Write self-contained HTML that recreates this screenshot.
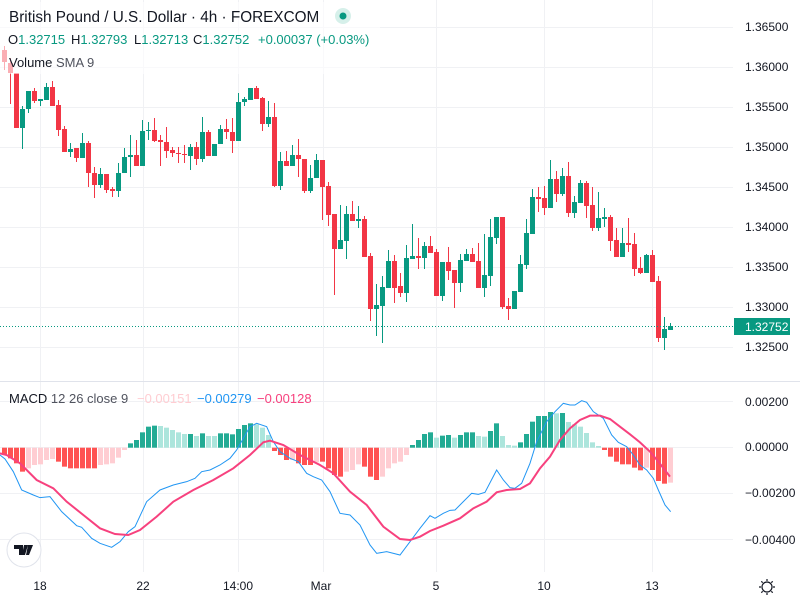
<!DOCTYPE html>
<html><head><meta charset="utf-8"><style>
html,body{margin:0;padding:0;background:#fff;width:800px;height:600px;overflow:hidden}
svg{display:block;font-family:"Liberation Sans",sans-serif}
</style></head><body>
<svg id="s" width="800" height="600" viewBox="0 0 800 600" xmlns="http://www.w3.org/2000/svg">
<g stroke="#f0f1f4" stroke-width="1" id="grid">
<line x1="40.5" y1="0" x2="40.5" y2="572"/><line x1="143.5" y1="0" x2="143.5" y2="572"/>
<line x1="238.5" y1="0" x2="238.5" y2="572"/><line x1="323.5" y1="0" x2="323.5" y2="572"/>
<line x1="436.5" y1="0" x2="436.5" y2="572"/><line x1="544.5" y1="0" x2="544.5" y2="572"/>
<line x1="652.5" y1="0" x2="652.5" y2="572"/>
<line x1="0" y1="27.5" x2="733" y2="27.5"/><line x1="0" y1="67.5" x2="733" y2="67.5"/>
<line x1="0" y1="107.5" x2="733" y2="107.5"/><line x1="0" y1="147.5" x2="733" y2="147.5"/>
<line x1="0" y1="187.5" x2="733" y2="187.5"/><line x1="0" y1="227.5" x2="733" y2="227.5"/>
<line x1="0" y1="267.5" x2="733" y2="267.5"/><line x1="0" y1="307.5" x2="733" y2="307.5"/>
<line x1="0" y1="347.5" x2="733" y2="347.5"/>
<line x1="0" y1="401.5" x2="733" y2="401.5"/><line x1="0" y1="447.5" x2="733" y2="447.5"/>
<line x1="0" y1="493.5" x2="733" y2="493.5"/><line x1="0" y1="539.5" x2="733" y2="539.5"/>
</g>
<line x1="0" y1="381.5" x2="800" y2="381.5" stroke="#e0e3eb" stroke-width="1"/>
<g id="candles"></g>
<g id="hist"></g>
<line x1="0" y1="326.5" x2="733" y2="326.5" stroke="#089981" stroke-width="1" stroke-dasharray="1,2"/>
<g transform="translate(0,355) scale(0.33333)" fill="none">
<polyline stroke="#2196f3" stroke-width="1" vector-effect="non-scaling-stroke" points="0,300 15,312 40,350 65,405 100,420 120,428 150,425 185,470 230,512 245,517 275,550 300,565 335,577 360,560 385,530 405,515 440,440 480,405 520,390 560,380 585,370 605,350 630,345 660,330 690,310 710,285 730,250 750,215 770,205 800,215 820,260 840,290 870,310 895,320 920,355 940,365 965,375 990,410 1020,475 1050,480 1080,510 1110,570 1130,595 1160,590 1200,600 1230,560 1260,520 1290,482 1305,490 1330,475 1350,466 1365,465 1390,440 1415,415 1435,418 1455,412 1490,345 1510,375 1530,398 1545,400 1565,385 1590,325 1610,260 1640,200 1665,170 1690,145 1710,150 1725,150 1745,137 1760,142 1780,170 1810,190 1835,240 1855,262 1880,275 1900,300 1920,330 1940,345 1960,370 1975,405 1995,450 2012,470"/>
<polyline stroke="#f7417e" stroke-width="2" vector-effect="non-scaling-stroke" points="0,295 20,300 60,325 110,375 160,400 200,440 250,480 300,520 345,537 385,540 420,525 470,485 520,440 580,405 640,375 700,340 750,300 790,262 810,257 850,270 900,300 960,330 1000,355 1050,410 1100,450 1150,515 1200,552 1230,555 1260,545 1290,528 1330,512 1380,490 1420,460 1460,440 1490,412 1520,405 1560,402 1590,385 1620,340 1650,305 1680,255 1710,220 1740,195 1770,182 1800,182 1830,192 1860,215 1890,238 1920,262 1950,290 1975,320 2010,365"/>
</g>
<!-- header -->
<rect x="0" y="2" width="380" height="72" fill="#fff" opacity="0.6"/>
<text x="9" y="22" font-size="15.3" fill="#131722">British Pound / U.S. Dollar · 4h · FOREXCOM</text>
<circle cx="343" cy="16" r="8" fill="#d6f0ea"/><circle cx="343" cy="16" r="3.5" fill="#089981"/>
<g font-size="13" fill="#089981">
<text x="8" y="44"><tspan fill="#131722">O</tspan>1.32715</text>
<text x="71" y="44"><tspan fill="#131722">H</tspan>1.32793</text>
<text x="134" y="44"><tspan fill="#131722">L</tspan>1.32713</text>
<text x="193" y="44"><tspan fill="#131722">C</tspan>1.32752</text>
<text x="258" y="44">+0.00037 (+0.03%)</text>
</g>
<text x="9" y="67" font-size="13" fill="#131722">Volume <tspan fill="#50535e">SMA 9</tspan></text>
<g font-size="13">
<text x="9" y="403" fill="#131722">MACD <tspan fill="#50535e">12 26 close 9</tspan></text>
<text x="137" y="403" fill="#ffcdd2">−0.00151</text>
<text x="197" y="403" fill="#2196f3">−0.00279</text>
<text x="257" y="403" fill="#f7417e">−0.00128</text>
</g>
<!-- price axis -->
<g font-size="12" fill="#131722">
<text x="745" y="31">1.36500</text><text x="745" y="71">1.36000</text><text x="745" y="111">1.35500</text>
<text x="745" y="151">1.35000</text><text x="745" y="191">1.34500</text><text x="745" y="231">1.34000</text>
<text x="745" y="271">1.33500</text><text x="745" y="311">1.33000</text><text x="745" y="351">1.32500</text>
<text x="745" y="406">0.00200</text><text x="745" y="451">0.00000</text>
<text x="745" y="497">−0.00200</text><text x="745" y="544">−0.00400</text>
</g>
<rect x="734" y="318" width="56" height="17" fill="#089981"/>
<text x="745" y="331" font-size="12" fill="#fff">1.32752</text>
<!-- time axis -->
<g font-size="12" fill="#131722" text-anchor="middle">
<text x="40" y="590">18</text><text x="143" y="590">22</text><text x="238" y="590">14:00</text>
<text x="321" y="590">Mar</text><text x="436" y="590">5</text><text x="544" y="590">10</text><text x="652" y="590">13</text>
</g>
<g transform="translate(767,587)" stroke="#131722" fill="none" stroke-width="1.2">
<circle r="5"/><path d="M0,-8V-6M0,6V8M-8,0H-6M6,0H8M-5.7,-5.7L-4.3,-4.3M4.3,4.3L5.7,5.7M-5.7,5.7L-4.3,4.3M4.3,-4.3L5.7,-5.7"/>
</g>
<circle cx="24" cy="550" r="17" fill="#fff" stroke="#e0e3eb"/>
<path d="M14,545h9v10h-4v-6h-5z M24,545h4l-3,10h-3z M28,545h5l-4,10h-3z" fill="#131722"/>
</svg>
<script>
var C=[[50,62,46,70,0],[63,73,58,104,0],[73,128,73,104,0],[109,128,106,149,1],[91,109,91,113,1],[91,101,88,103,0],[99,101,99,106,1],[87,100,83,100,1],[87,106,81,106,0],[105,130,100,136,0],
[129,152,126,152,0],[149,152,143,157,1],[148,158,148,162,0],[143,158,133,158,1],[143,173,141,187,0],[173,185,167,198,0],[174,185,168,188,1],[174,190,174,193,0],[189,191,187,197,0],[173,191,163,197,1],
[157,173,148,173,1],[155,157,135,177,1],[155,166,140,166,0],[131,166,120,166,1],[130,131,122,140,1],[130,141,118,142,0],[140,142,135,166,0],[142,151,127,158,0],[150,153,147,157,0],[153,154,147,163,0],
[154,155,145,163,0],[147,156,144,170,1],[147,159,142,165,0],[132,159,117,162,1],[132,156,130,156,0],[144,156,144,156,1],[129,144,125,144,1],[129,132,119,139,0],[132,141,118,153,0],[102,141,93,141,1],
[99,102,97,106,1],[88,100,88,100,1],[88,99,86,99,0],[98,124,97,131,0],[117,124,101,127,1],[117,186,103,187,0],[161,186,152,190,1],[161,166,151,166,0],[155,166,145,166,1],[155,159,139,177,0],
[159,191,159,193,0],[178,191,165,193,1],[160,178,154,178,1],[160,187,160,220,0],[186,215,182,226,0],[214,249,214,295,0],[240,249,205,249,1],[214,241,206,259,1],[214,221,201,221,0],[219,221,206,228,1],
[219,257,216,257,0],[256,309,253,321,0],[305,309,284,336,1],[287,306,276,343,1],[261,288,250,288,1],[261,288,255,303,0],[286,293,273,297,0],[258,293,245,302,1],[256,259,224,259,1],[256,258,238,269,0],
[246,258,242,269,1],[246,253,236,253,0],[252,296,249,296,0],[262,296,262,301,1],[262,271,247,280,0],[270,283,270,308,0],[260,283,254,292,1],[254,261,249,261,1],[254,262,248,262,0],[261,288,243,288,0],
[275,288,234,297,1],[237,276,219,286,1],[217,238,217,244,1],[217,307,217,309,0],[306,309,298,320,0],[291,309,291,309,1],[264,292,255,292,1],[233,265,219,269,1],[197,234,189,234,1],[197,199,187,212,0],
[198,208,186,215,0],[179,208,160,208,1],[179,194,171,202,0],[176,194,168,196,1],[176,213,162,217,0],[202,213,196,218,1],[183,203,180,203,1],[183,206,181,218,0],[205,228,187,231,0],[218,228,192,231,1],
[217,219,208,227,1],[217,241,215,251,0],[240,257,228,257,0],[243,257,228,257,1],[243,245,218,252,0],[244,269,233,276,0],[268,273,257,274,0],[255,273,254,273,1],[255,282,250,282,0],[281,338,276,342,0],
[329,338,317,350,1],[326,330,323,330,1]];
var H=[['R',300],['R',310],['R',325],['R',350],['P',340],['P',330],['P',328],['P',315],['P',312],['R',320],['R',335],['R',340],['R',340],['R',340],['R',340],['R',340],['P',330],['P',328],['P',325],['P',308],['P',285],
['G',265],['G',255],['G',232],['G',215],['G',212],['L',213],['L',218],['L',225],['L',232],['L',237],['G',237],['L',243],['G',235],['L',243],['L',243],['G',235],['G',235],['G',238],['G',222],['G',210],['G',205],['L',208],['L',218],['L',240],
['R',288],['R',300],['R',315],['P',315],['R',325],['R',330],['R',330],['P',322],['R',320],['R',340],['R',360],['R',365],['P',350],['P',345],['P',328],['R',335],['R',365],['R',375],['P',365],['P',340],['P',325],
['P',320],['P',300],['G',270],['G',255],['G',237],['G',232],['L',248],['G',242],['G',240],['L',248],['G',240],['G',232],['G',232],['L',243],['L',245],['G',228],['G',205],['L',243],['L',270],['L',272],['G',262],['G',237],['G',200],['G',183],['G',183],['G',171],['L',175],['G',174],['L',201],['L',208],['L',215],['L',234],['L',262],['L',273],
['R',285],['R',305],['R',320],['R',328],['R',328],['R',338],['R',346],['P',338],['R',345],['R',378],['R',386],['P',383]];
var ns="http://www.w3.org/2000/svg",cg=document.getElementById('candles'),hg=document.getElementById('hist');
function el(t,a,p){var e=document.createElementNS(ns,t);for(var k in a)e.setAttribute(k,a[k]);p.appendChild(e);}
C.forEach(function(c,i){var x=4+6*i,col=c[4]?'#089981':'#f23645';
el('line',{x1:x+0.5,x2:x+0.5,y1:c[2],y2:c[3],stroke:col,'stroke-width':1},cg);
el('rect',{x:x-2,y:c[0],width:5,height:Math.max(1,c[1]-c[0]),fill:col},cg);});
var cm={R:'#ff5252',P:'#ffcdd2',G:'#22ab94',L:'#ace5dc'};
H.forEach(function(h,i){var x=4+6*i,y=355+h[1]/3,z=447.7;
el('rect',{x:x-2,y:Math.min(y,z),width:5,height:Math.max(1,Math.abs(y-z)),fill:cm[h[0]]},hg);});
</script>
</body></html>
